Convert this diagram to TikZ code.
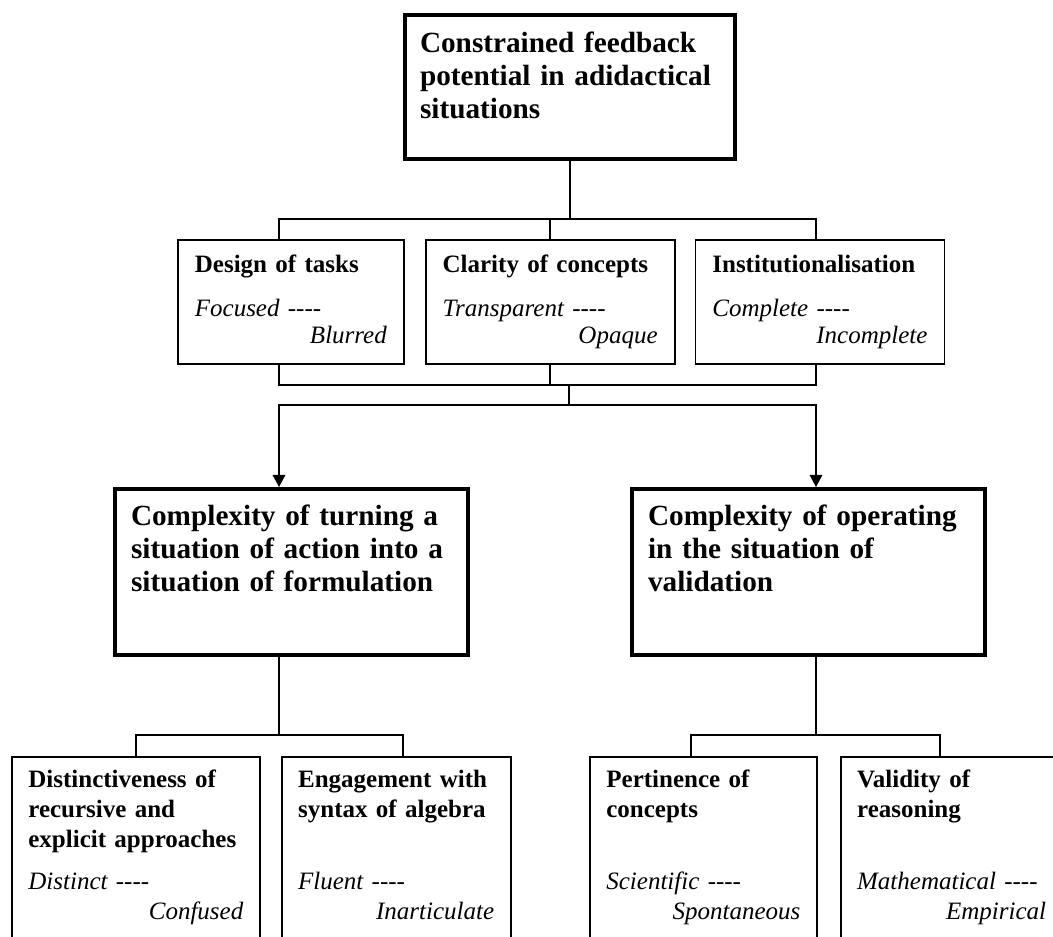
\documentclass[tikz,border=0pt]{standalone}
\usepackage{fontspec}
\setmainfont{Liberation Serif}
\usetikzlibrary{arrows.meta,positioning}
\newcommand{\fourdash}{\mbox{-}\mbox{-}\mbox{-}\mbox{-}}
\hyphenpenalty=10000

\begin{document}
\begin{tikzpicture}[
  x=0.4pt, y=-0.4pt,
  block/.style={rectangle, draw, anchor=north west, align=left, inner ysep=0pt},
  headbox/.style={block, line width=1.6pt, inner xsep=6.4pt, font=\fontsize{11.7}{13.2}\selectfont\bfseries, text height=14.8pt, text depth=51.6pt},
  midbox/.style={block, line width=0.7pt, inner xsep=6.8pt, font=\fontsize{10}{10.8}\selectfont, text height=13.2pt, text depth=36.4pt},
  leafbox/.style={block, line width=0.7pt, inner xsep=6.6pt, font=\fontsize{10}{12}\selectfont, text height=12.4pt, text depth=67.6pt},
  link/.style={line width=0.6pt},
  arrow/.style={link, -{Triangle[length=4.8pt, width=5pt]}}
]
\useasboundingbox (0,0) rectangle (1053,937);
\clip (0,0) rectangle (1053,937);

\node[headbox, text width=120pt, inner xsep=6pt, text height=15.2pt, text depth=42.4pt] (top) at (403,13) {Constrained feedback\\ potential in adidactical\\ situations};

\node[midbox, text width=76.8pt] (design) at (177,239) {\textbf{Design of tasks}\\[6.8pt] \textit{Focused \fourdash}\\ \hspace*{\fill}\textit{Blurred}};
\node[midbox, text width=86pt, right=8pt of design] (clarity) {\textbf{Clarity of concepts}\\[6.8pt] \textit{Transparent \fourdash}\\ \hspace*{\fill}\textit{Opaque}};
\node[midbox, text width=86pt, right=7.6pt of clarity] (inst) {\textbf{Institutionalisation}\\[6.8pt] \textit{Complete \fourdash}\\ \hspace*{\fill}\textit{Incomplete}};

\node[headbox, text width=128.4pt] (turning) at (113,487) {Complexity of turning a\\ situation of action into a\\ situation of formulation};
\node[headbox, text width=128.4pt] (operating) at (630,487) {Complexity of operating\\ in the situation of\\ validation};

\node[leafbox, text width=86pt] (distinct) at (11,756) {\textbf{Distinctiveness of\\ recursive and\\ explicit approaches}\\[4.8pt] \textit{Distinct \fourdash}\\ \hspace*{\fill}\textit{Confused}};
\node[leafbox, text width=78.4pt, right=8pt of distinct] (engage) {\textbf{Engagement with\\ syntax of algebra}\\[16.8pt] \textit{Fluent \fourdash}\\ \hspace*{\fill}\textit{Inarticulate}};
\node[leafbox, text width=77.6pt] (pertin) at (589,756) {\textbf{Pertinence of\\ concepts}\\[16.8pt] \textit{Scientific \fourdash}\\ \hspace*{\fill}\textit{Spontaneous}};
\node[leafbox, text width=75.6pt, right=8.8pt of pertin] (validity) {\textbf{Validity of\\ reasoning}\\[16.8pt] \textit{Mathematical \fourdash}\\ \hspace*{\fill}\textit{Empirical}};

\coordinate (cL) at (279,0);
\coordinate (cR) at (816,0);
\coordinate (cB) at (403,0);
\coordinate (cC) at (691,0);
\coordinate (cD) at (940,0);
\coordinate (j1) at (569,219);
\coordinate (j2) at (569,385);
\coordinate (j3) at (569,405);
\coordinate (j4) at (279,735);
\coordinate (j5) at (816,735);

\draw[link] (top.south) -- (top.south |- j1);
\draw[link] (design.north -| cL) |- (cR |- j1) -- (inst.north -| cR);
\draw[link] (clarity.north) -- (clarity.north |- j1);
\draw[link] (design.south -| cL) |- (cR |- j2) -- (inst.south -| cR);
\draw[link] (clarity.south) -- (clarity.south |- j2);
\draw[link] (j2) -- (j3);
\draw[arrow] (j3) -| (turning.north -| cL);
\draw[arrow] (j3) -| (operating.north -| cR);

\draw[link] (turning.south -| cL) -- (j4);
\draw[link] (distinct.north) |- (j4) -| (engage.north -| cB);
\draw[link] (operating.south -| cR) -- (j5);
\draw[link] (pertin.north -| cC) |- (j5) -| (validity.north -| cD);
\end{tikzpicture}
\end{document}
